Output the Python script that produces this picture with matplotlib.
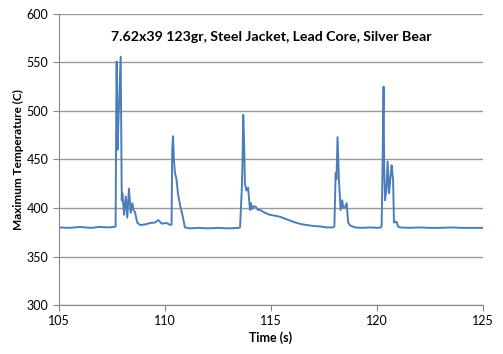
import matplotlib
matplotlib.use("Agg")
import matplotlib.pyplot as plt

# values
time_s = [105.0, 105.5, 106.0, 106.5, 106.93, 107.3, 107.6, 107.67,
          107.70, 107.72, 107.76, 107.82, 107.91, 107.96, 107.99, 108.07,
          108.15, 108.22, 108.30, 108.38, 108.46, 108.51, 108.58, 108.69,
          108.82, 109.06, 109.29, 109.53, 109.68, 109.84, 110.08, 110.24,
          110.31, 110.34, 110.38, 110.42, 110.47, 110.54, 110.61, 110.71,
          110.80, 110.85, 110.94, 111.18, 111.6, 112.0, 112.5, 113.0,
          113.49, 113.54, 113.62, 113.66, 113.69, 113.73, 113.77, 113.84,
          113.92, 114.01, 114.06, 114.10, 114.20, 114.29, 114.39, 114.48,
          114.72, 114.95, 115.19, 115.42, 115.66, 115.90, 116.23, 116.51,
          116.98, 117.31, 117.6, 117.92, 117.99, 118.05, 118.09, 118.14,
          118.21, 118.25, 118.28, 118.36, 118.41, 118.49, 118.57, 118.64,
          118.73, 118.96, 119.3, 119.7, 120.0, 120.19, 120.22, 120.26,
          120.31, 120.34, 120.38, 120.45, 120.50, 120.57, 120.63, 120.69,
          120.73, 120.76, 120.80, 120.92, 120.99, 121.08, 121.5, 122.0,
          122.5, 123.0, 123.5, 124.0, 124.5, 125.0]
max_temp = [380, 379.5, 380.5, 379.5, 380.5, 380, 380.5, 381,
            500, 551, 460, 500, 556, 408, 415, 393,
            412, 390, 420, 395, 405, 398, 396, 385,
            382.5, 383, 384.5, 385, 387.6, 384, 384.5, 382.5,
            383, 460, 474, 450, 436, 430, 415, 403,
            395, 390, 380, 379, 379.5, 379, 379.5, 379,
            379.5, 380, 418, 450, 496, 470, 425, 418,
            421, 398, 405, 399, 402, 401, 398, 398,
            395, 393, 392, 391, 389, 387, 384.5, 383,
            381.5, 381, 380, 380, 381, 436, 430, 473,
            426, 412, 398, 408, 400, 401, 405, 385,
            382, 380, 379.5, 380, 379.5, 380, 382, 440,
            525, 440, 408, 420, 448, 415, 430, 444,
            435, 429, 385, 386, 381, 380, 379.5, 380,
            379.5, 379.5, 380, 379.5, 379.5, 379.5]

x_ticks = [105, 110, 115, 120, 125]
y_ticks = [300, 350, 400, 450, 500, 550, 600]

plt.rcParams["font.family"] = ["Lato", "DejaVu Sans"]

fig = plt.figure(figsize=(5.03, 3.54), dpi=100)
ax = fig.add_axes([0.1173, 0.1384, 0.8429, 0.8221])

ax.plot(time_s, max_temp, color="#4A7EBB", lw=1.4)

ax.set_xlim(105, 125)
ax.set_ylim(300, 600)
ax.set_xticks(x_ticks)
ax.set_yticks(y_ticks)
ax.tick_params(labelsize=9, colors="#868686", labelcolor="black", length=4)
ax.grid(axis="y", color="#999999", lw=1)
ax.set_axisbelow(True)
for s in ["top", "right"]:
    ax.spines[s].set_visible(False)
for s in ["left", "bottom"]:
    ax.spines[s].set_color("#868686")

ax.text(0.5, 0.921, "7.62x39 123gr, Steel Jacket, Lead Core, Silver Bear",
        transform=ax.transAxes, ha="center", va="center",
        fontsize=10.2, fontweight="bold")
ax.set_xlabel("Time (s)", fontsize=9, fontweight="bold", labelpad=3)
ax.set_ylabel("Maximum Temperature (C)", fontsize=8.5, fontweight="bold",
              labelpad=2)

fig.savefig("out.png", dpi=100)
